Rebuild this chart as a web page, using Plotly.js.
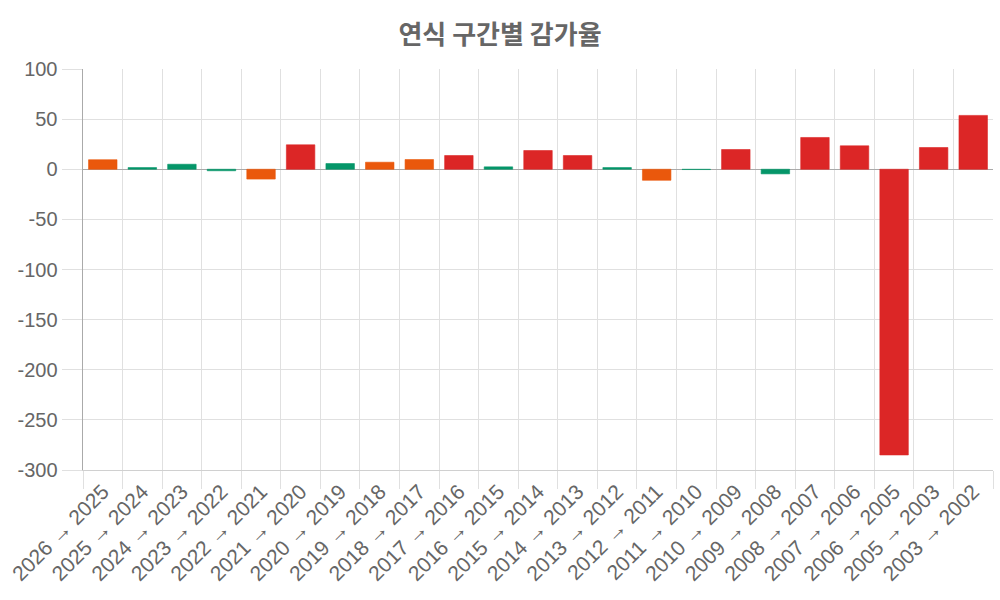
<!DOCTYPE html>
<html>
<head>
<meta charset="utf-8">
<script src="https://cdn.plot.ly/plotly-3.0.1.min.js"></script>
<style>html,body{margin:0;padding:0;background:#fff;}#chart{width:1000px;height:600px;}</style>
</head>
<body>
<div id="chart"></div>
<script>
const categories = ["2026 → 2025","2025 → 2024","2024 → 2023","2023 → 2022","2022 → 2021","2021 → 2020","2020 → 2019","2019 → 2018","2018 → 2017","2017 → 2016","2016 → 2015","2015 → 2014","2014 → 2013","2013 → 2012","2012 → 2011","2011 → 2010","2010 → 2009","2009 → 2008","2008 → 2007","2007 → 2006","2006 → 2005","2005 → 2003","2003 → 2002"];
const values = [9.5, 1.7, 5, -1.5, -9.8, 24.4, 5.7, 7, 9.7, 13.7, 2.4, 18.7, 13.7, 1.7, -11, -0.3, 19.7, -4.6, 31.7, 23.4, -285, 21.7, 53.7];
const yTicks = [100, 50, 0, -50, -100, -150, -200, -250, -300];

const GREEN = "#059669", ORANGE = "#ea580c", RED = "#dc2626";
function colorFor(v) {
  const a = Math.abs(v);
  if (a < 6) return GREEN;
  if (a <= 12) return ORANGE;
  return RED;
}
const colors = values.map(colorFor);
const borders = colors.map(c => c + "99");

const trace = {
  type: "bar",
  x: categories,
  y: values,
  marker: { color: colors, line: { color: borders, width: 1 } },
  hoverinfo: "x+y"
};

const layout = {
  width: 1000, height: 600,
  margin: { l: 83, r: 7, t: 69, b: 130 },
  paper_bgcolor: "#fff", plot_bgcolor: "#fff",
  bargap: 0.28,
  showlegend: false,
  title: {
    text: "<b>연식 구간별 감가율</b>",
    x: 0.5, xanchor: "center", y: 0.942, yanchor: "middle",
    font: { family: "Noto Sans CJK KR, Liberation Sans, sans-serif", size: 26, color: "#666" }
  },
  font: { family: "Liberation Sans, Arial, sans-serif", color: "#666" },
  xaxis: {
    type: "category",
    tickangle: -45,
    tickson: "boundaries",
    ticks: "outside", ticklen: 18, tickcolor: "#e0e0e0", tickwidth: 1,
    showgrid: true, gridcolor: "#e0e0e0", gridwidth: 1,
    showline: true, linecolor: "#d0d0d0", linewidth: 1,
    tickfont: { size: 21, color: "#666", family: "Liberation Sans, Arial, sans-serif" },
    automargin: false
  },
  yaxis: {
    range: [-300, 100],
    tickvals: yTicks,
    ticktext: yTicks.map(String),
    ticks: "outside", ticklen: 20, tickcolor: "#e0e0e0", tickwidth: 1,
    showgrid: true, gridcolor: "#e0e0e0", gridwidth: 1,
    zeroline: true, zerolinecolor: "#aaa", zerolinewidth: 1.5,
    showline: true, linecolor: "#aaa", linewidth: 1.5,
    tickfont: { size: 20, color: "#666", family: "Liberation Sans, Arial, sans-serif" },
    automargin: false
  }
};

Plotly.newPlot("chart", [trace], layout, { displayModeBar: false, staticPlot: true });
</script>
</body>
</html>
